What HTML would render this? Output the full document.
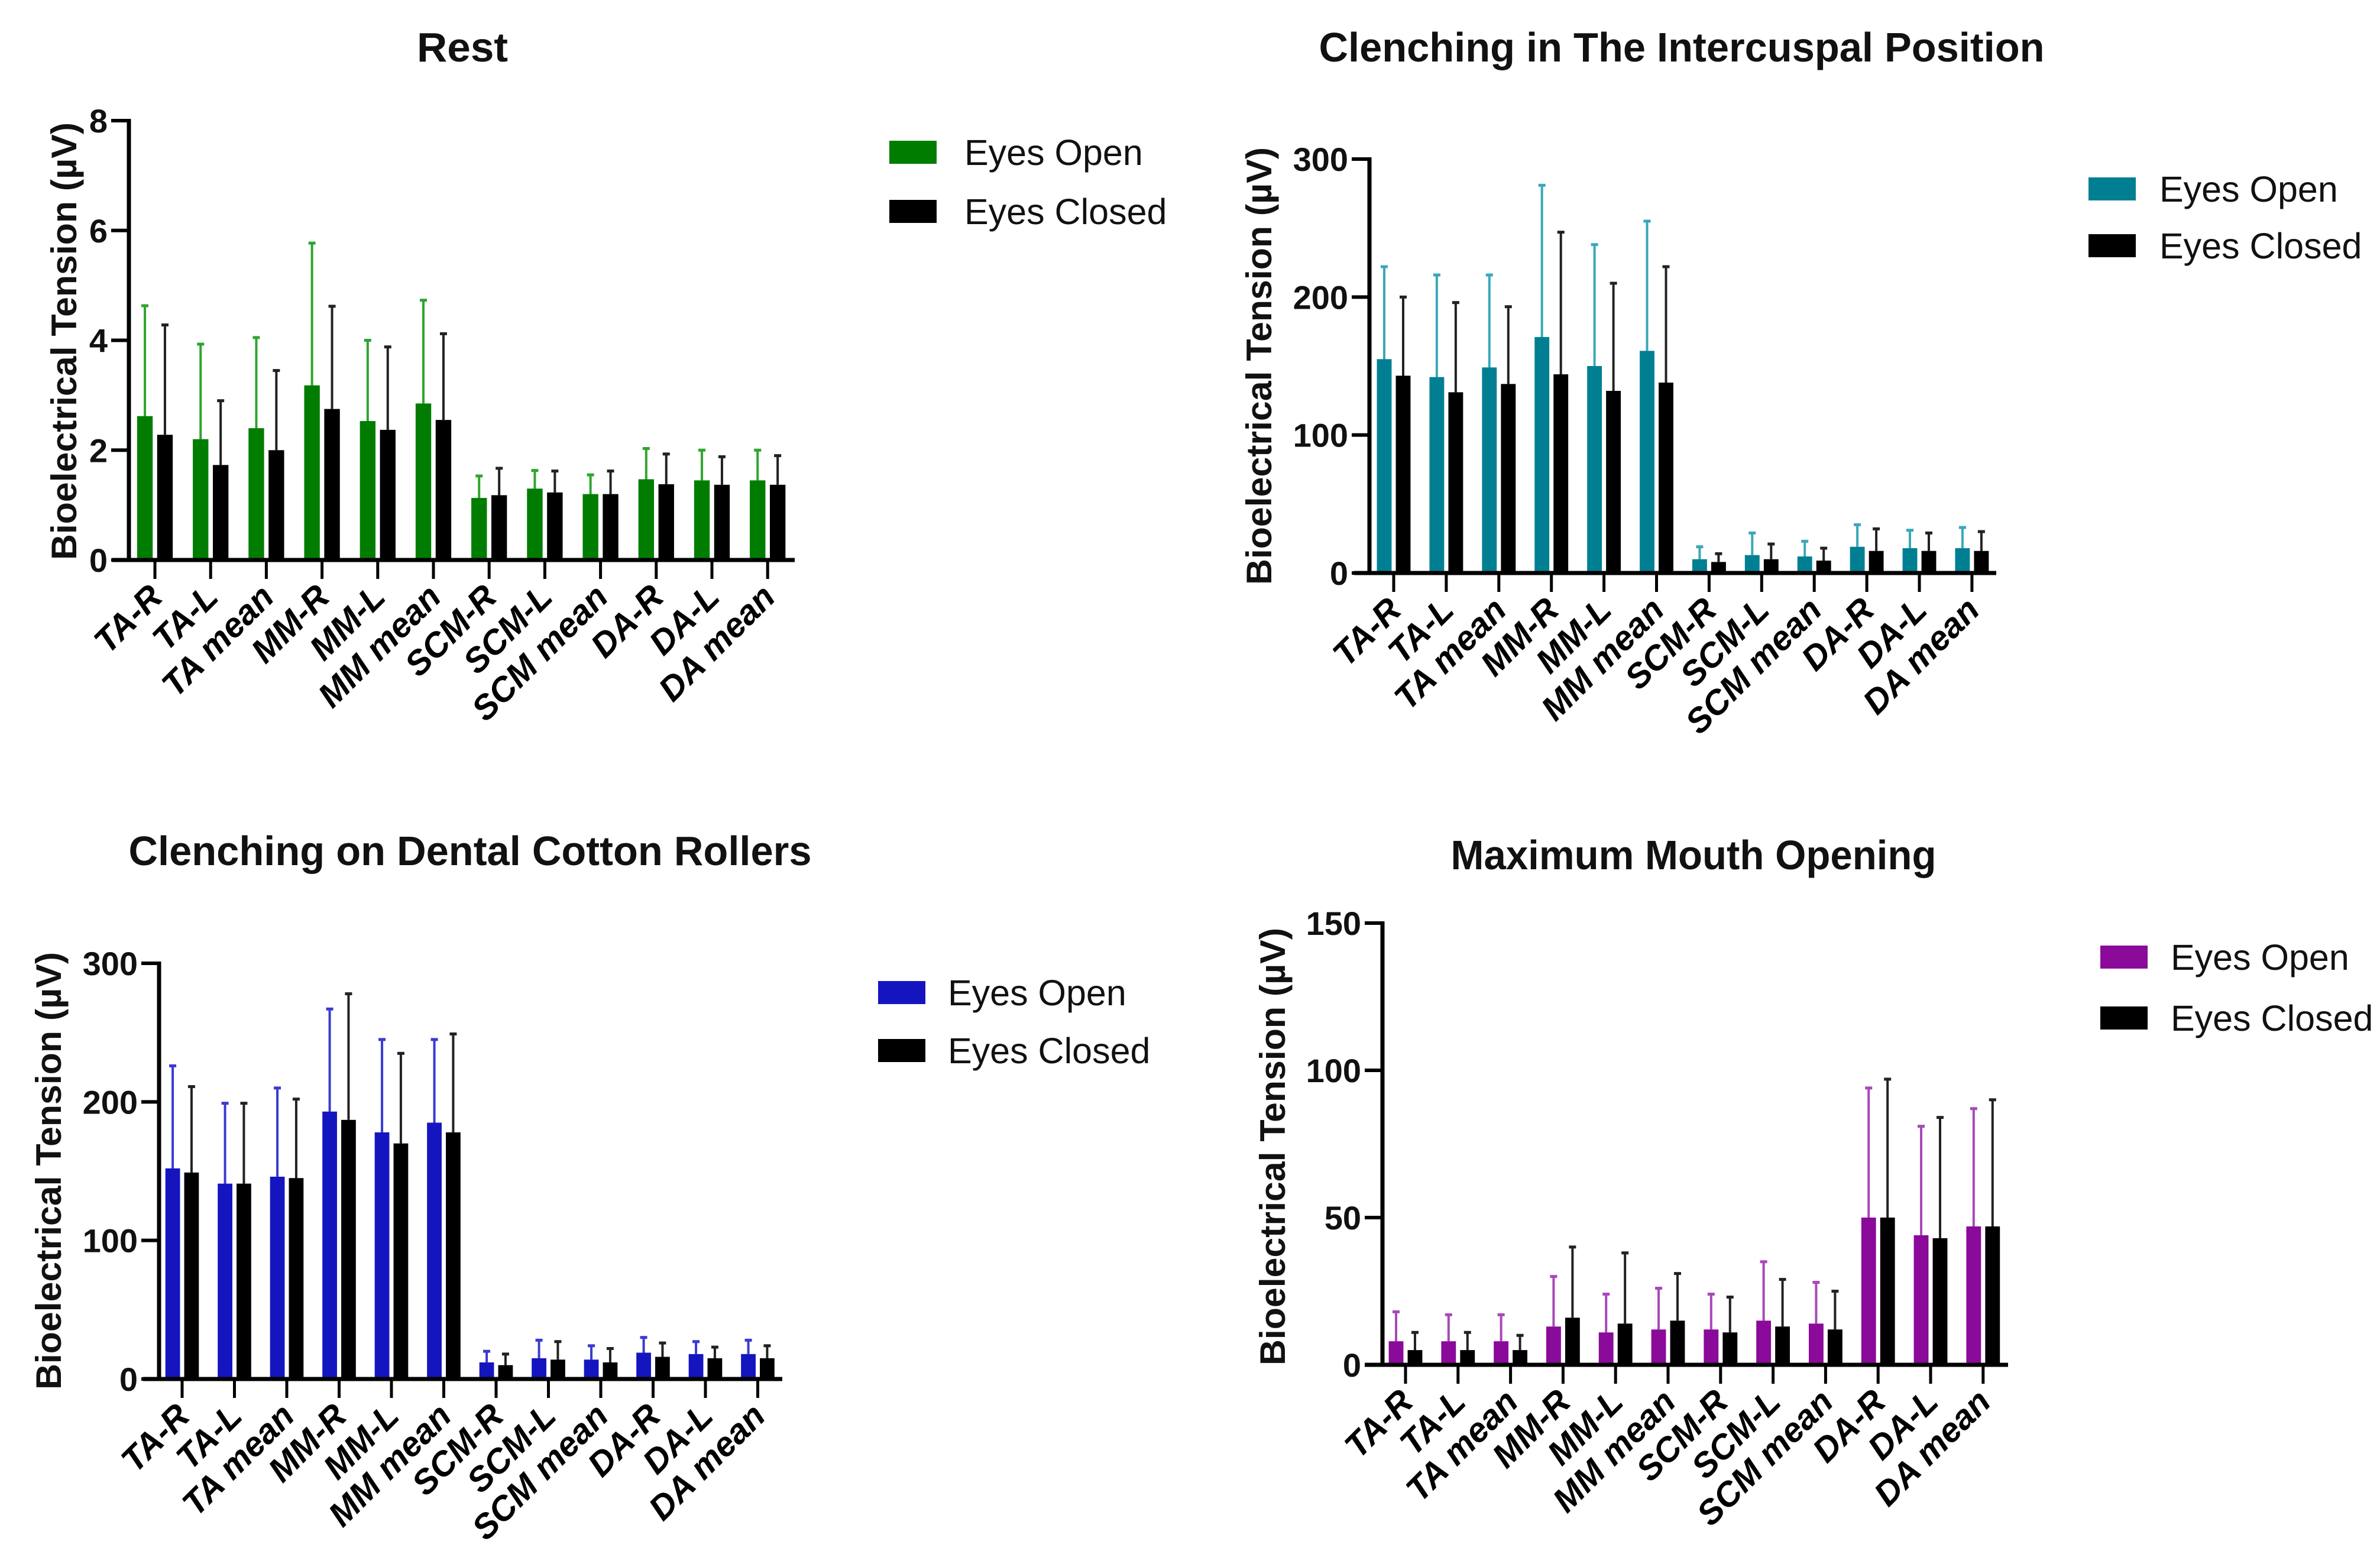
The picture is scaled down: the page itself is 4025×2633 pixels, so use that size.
<!DOCTYPE html>
<html><head><meta charset="utf-8"><style>
html,body{margin:0;padding:0;background:#fff;}
svg{display:block;font-family:"Liberation Sans",Arial,sans-serif;}
</style></head><body>
<svg id="fig" width="4025" height="2633" viewBox="0 0 4025 2633" xmlns="http://www.w3.org/2000/svg">
<rect width="4025" height="2633" fill="#fff"/>
</svg>
<script>
const categories = ["TA-R","TA-L","TA mean","MM-R","MM-L","MM mean","SCM-R","SCM-L","SCM mean","DA-R","DA-L","DA mean"];
const seriesNames = ["Eyes Open","Eyes Closed"];
const panelTitles = ["Rest","Clenching in The Intercuspal Position","Clenching on Dental Cotton Rollers","Maximum Mouth Opening"];
const yTicksRest = [0,2,4,6,8];
const yTicksIcp = [0,100,200,300];
const yTicksCotton = [0,100,200,300];
const yTicksMmo = [0,50,100,150];
const restOpen = [2.62,2.2,2.4,3.18,2.53,2.85,1.13,1.3,1.2,1.47,1.45,1.45];
const restOpenErr = [4.63,3.93,4.05,5.77,4.0,4.73,1.53,1.63,1.55,2.03,2.0,2.0];
const restClosed = [2.28,1.73,2.0,2.75,2.37,2.55,1.18,1.23,1.2,1.38,1.37,1.37];
const restClosedErr = [4.28,2.9,3.45,4.62,3.88,4.12,1.67,1.62,1.62,1.93,1.88,1.9];
const icpOpen = [155,142,149,171,150,161,10,13,12,19,18,18];
const icpOpenErr = [222,216,216,281,238,255,19,29,23,35,31,33];
const icpClosed = [143,131,137,144,132,138,8,10,9,16,16,16];
const icpClosedErr = [200,196,193,247,210,222,14,21,18,32,29,30];
const cottonOpen = [152,141,146,193,178,185,12,15,14,19,18,18];
const cottonOpenErr = [226,199,210,267,245,245,20,28,24,30,27,28];
const cottonClosed = [149,141,145,187,170,178,10,14,12,16,15,15];
const cottonClosedErr = [211,199,202,278,235,249,18,27,22,26,23,24];
const mmoOpen = [8,8,8,13,11,12,12,15,14,50,44,47];
const mmoOpenErr = [18,17,17,30,24,26,24,35,28,94,81,87];
const mmoClosed = [5,5,5,16,14,15,11,13,12,50,43,47];
const mmoClosedErr = [11,11,10,40,38,31,23,29,25,97,84,90];

const NS="http://www.w3.org/2000/svg";
const svg=document.getElementById('fig');
function mk(tag,attrs,parent){const e=document.createElementNS(NS,tag);for(const k in attrs)e.setAttribute(k,attrs[k]);(parent||svg).appendChild(e);return e;}

const panels=[
 {key:'rest',ax:218,top:204,zero:947,xs:190,xe:1344,t0:262,dt:94.2,ticks:yTicksRest,open:restOpen,openErr:restOpenErr,closed:restClosed,closedErr:restClosedErr,col:'#007d00',ecol:'#2fa52f',tx:782,ty:104,tw:154,lx:1504,ly:238,ly2:338,ltx:1631,ylx:109,yly:577},
 {key:'icp',ax:2316,top:269,zero:969,xs:2290,xe:3376,t0:2357,dt:88.9,ticks:yTicksIcp,open:icpOpen,openErr:icpOpenErr,closed:icpClosed,closedErr:icpClosedErr,col:'#007f93',ecol:'#3aa8b8',tx:2844,ty:104,tw:1227,lx:3532,ly:300,ly2:396,ltx:3652,ylx:2130,yly:619},
 {key:'cotton',ax:269,top:1629,zero:2332,xs:242,xe:1323,t0:308,dt:88.5,ticks:yTicksCotton,open:cottonOpen,openErr:cottonOpenErr,closed:cottonClosed,closedErr:cottonClosedErr,col:'#1515c0',ecol:'#3a3ad0',tx:795,ty:1463,tw:1155,lx:1485,ly:1659,ly2:1757,ltx:1603,ylx:83,yly:1980},
 {key:'mmo',ax:2338,top:1561,zero:2308,xs:2308,xe:3396,t0:2377,dt:88.8,ticks:yTicksMmo,open:mmoOpen,openErr:mmoOpenErr,closed:mmoClosed,closedErr:mmoClosedErr,col:'#8a0a9a',ecol:'#a848b8',tx:2864,ty:1470,tw:821,lx:3552,ly:1599,ly2:1702,ltx:3671,ylx:2153,yly:1939}
];

panels.forEach((p,pi)=>{
  const g=mk('g',{});
  
  
  const maxV=p.ticks[p.ticks.length-1];
  const y=v=>p.zero-(v/maxV)*(p.zero-p.top);
  const xc=i=>p.t0+i*p.dt;
  const bw=p.dt*0.28, off=p.dt*0.04;
  const t=mk('text',{x:p.tx,y:p.ty,'text-anchor':'middle','font-size':70,'font-weight':'bold',fill:'#111',textLength:p.tw,lengthAdjust:'spacingAndGlyphs'},g);
  t.textContent=panelTitles[pi];
  
  
  categories.forEach((c,i)=>{
    const sets=[[p.open[i],p.openErr[i],p.col,p.ecol,xc(i)-off-bw],[p.closed[i],p.closedErr[i],'#000','#222',xc(i)+off]];
    sets.forEach((s,si)=>{
      const [v,e,col,ecol,x]=s;
      const cx=x+bw/2;
      const el=mk('line',{x1:cx,x2:cx,y1:y(v),y2:y(e),stroke:ecol,'stroke-width':4},g);
      
      
      const cap=mk('line',{x1:cx-6,x2:cx+6,y1:y(e),y2:y(e),stroke:ecol,'stroke-width':5},g);
      
      
      const r=mk('rect',{x:x,y:y(v),width:bw,height:p.zero-y(v),fill:col},g);
      
      
    });
    const tk=mk('line',{x1:xc(i),x2:xc(i),y1:p.zero,y2:p.zero+32,stroke:'#000','stroke-width':5},g);
    
    
    const lx=xc(i)+16, ly=p.zero+66;
    const lb=mk('text',{x:lx,y:ly,'text-anchor':'end','font-size':58,'font-weight':'bold','font-style':'italic',fill:'#000',transform:`rotate(-45 ${lx} ${ly})`},g);
    lb.textContent=c;
    
    
  });
  const ya=mk('line',{x1:p.ax,x2:p.ax,y1:p.top-3,y2:p.zero+3,stroke:'#000','stroke-width':7},g);
  
  
  const xa=mk('line',{x1:p.xs,x2:p.xe,y1:p.zero,y2:p.zero,stroke:'#000','stroke-width':7},g);
  
  
  p.ticks.forEach(v=>{
    const tl=mk('line',{x1:p.ax-30,x2:p.ax,y1:y(v),y2:y(v),stroke:'#000','stroke-width':6},g);
    
    
    const tt=mk('text',{x:p.ax-36,y:y(v)+20,'text-anchor':'end','font-size':56,'font-weight':'bold',fill:'#111'},g);
    tt.textContent=v;
    
    
  });
  const yl=mk('text',{x:p.ylx+20,y:p.yly,'text-anchor':'middle','font-size':60,'font-weight':'bold',fill:'#111',textLength:740,lengthAdjust:'spacingAndGlyphs',transform:`rotate(-90 ${p.ylx+20} ${p.yly})`},g);
  yl.textContent="Bioelectrical Tension (\u00B5V)";
  
  
  [[p.ly,p.col,seriesNames[0]],[p.ly2,'#000',seriesNames[1]]].forEach((L,li)=>{
    const sq=mk('rect',{x:p.lx,y:L[0],width:80,height:39,fill:L[1]},g);
    
    
    const lt=mk('text',{x:p.ltx,y:L[0]+41,'font-size':61,fill:'#111'},g);
    lt.textContent=L[2];
    
    
  });
});
</script>
</body></html>
